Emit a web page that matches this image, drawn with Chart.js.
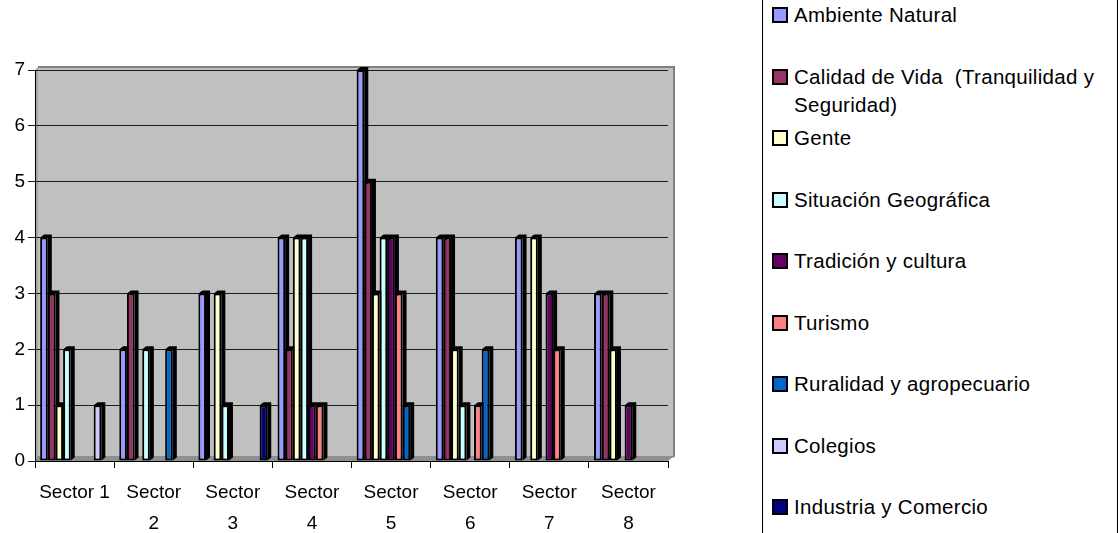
<!DOCTYPE html>
<html lang="es">
<head>
  <meta charset="UTF-8">
  <title>Sectores</title>
  <style>
    body {
      margin: 0;
      background: #ffffff;
      font-family: "Liberation Sans", Arial, sans-serif;
      width: 1119px;
      height: 533px;
      overflow: hidden;
      position: relative;
    }
    #chartBox {
      position: absolute;
      left: 0;
      top: 0;
      width: 700px;
      height: 533px;
    }
    .legend {
      position: absolute;
      left: 762px;
      top: -2px;
      width: 354px;
      height: 545px;
      border: 1px solid #000;
      background: #fff;
    }
    .item {
      position: absolute;
      left: 9px;
      width: 326px;
      font-size: 20.5px;
      line-height: 28px;
      letter-spacing: 0.3px;
      color: #000;
      white-space: pre-wrap;
      padding-left: 22px;
    }
    .swatch {
      position: absolute;
      left: 0;
      top: 6px;
      width: 12px;
      height: 12px;
      border: 2px solid #000;
    }
  </style>
</head>
<body>
  <div id="chartBox"><canvas id="chart" width="700" height="533"></canvas></div>
  <div class="legend" id="legend"></div>

  <script src="https://cdn.jsdelivr.net/npm/chart.js"></script>
  <script>
    // categories and tick labels
    const sectors = ['Sector 1', 'Sector 2', 'Sector 3', 'Sector 4', 'Sector 5', 'Sector 6', 'Sector 7', 'Sector 8'];
    const sectorTicks = [['Sector 1'], ['Sector', '2'], ['Sector', '3'], ['Sector', '4'], ['Sector', '5'], ['Sector', '6'], ['Sector', '7'], ['Sector', '8']];
    const yTicks = [0, 1, 2, 3, 4, 5, 6, 7];

    // one array per series (Sector 1 .. Sector 8)
    const ambienteNatural = [4, 2, 3, 4, 7, 4, 4, 3];
    const calidadDeVida   = [3, 3, 0, 2, 5, 4, 0, 3];
    const gente           = [1, 0, 3, 4, 3, 2, 4, 2];
    const situacionGeo    = [2, 2, 1, 4, 4, 1, 0, 0];
    const tradicion       = [0, 0, 0, 1, 4, 0, 3, 1];
    const turismo         = [0, 0, 0, 1, 3, 1, 2, 0];
    const ruralidad       = [0, 2, 0, 0, 1, 2, 0, 0];
    const colegios        = [1, 0, 0, 0, 0, 0, 0, 0];
    const industria       = [0, 0, 1, 0, 0, 0, 0, 0];

    const seriesNames = [
      'Ambiente Natural',
      'Calidad de Vida  (Tranquilidad y Seguridad)',
      'Gente',
      'Situación Geográfica',
      'Tradición y cultura',
      'Turismo',
      'Ruralidad y agropecuario',
      'Colegios',
      'Industria y Comercio'
    ];
    const seriesValues = [ambienteNatural, calidadDeVida, gente, situacionGeo, tradicion, turismo, ruralidad, colegios, industria];
    const seriesColors = ['#9999ff', '#993366', '#ffffcc', '#ccffff', '#660066', '#ff8080', '#0066cc', '#ccccff', '#000080'];

    const FONT = '"Liberation Sans", Arial, sans-serif';

    // grey back wall and floor, like the old 3D column chart
    const wallPlugin = {
      id: 'wall',
      beforeDraw(chart) {
        const { ctx, chartArea } = chart;
        const { left, right, top, bottom } = chartArea;
        ctx.save();
        ctx.fillStyle = '#c0c0c0';
        ctx.fillRect(left + 3, top - 3, right - left + 3, bottom - top);
        // left side wall
        ctx.fillStyle = '#a6a6a6';
        ctx.beginPath();
        ctx.moveTo(left, top);
        ctx.lineTo(left + 3, top - 3);
        ctx.lineTo(left + 3, bottom - 3);
        ctx.lineTo(left, bottom);
        ctx.closePath();
        ctx.fill();
        // wall frame
        ctx.strokeStyle = '#808080';
        ctx.lineWidth = 2;
        ctx.beginPath();
        ctx.moveTo(left + 3, top - 3);
        ctx.lineTo(right + 6, top - 3);
        ctx.lineTo(right + 6, bottom - 4);
        ctx.stroke();
        // floor
        ctx.fillStyle = '#8f8f8f';
        ctx.beginPath();
        ctx.moveTo(left, bottom);
        ctx.lineTo(right, bottom);
        ctx.lineTo(right + 6, bottom - 5);
        ctx.lineTo(left + 3, bottom - 5);
        ctx.closePath();
        ctx.fill();
        ctx.restore();
      }
    };

    // black side and top faces behind each column
    const depthPlugin = {
      id: 'depth',
      beforeDatasetsDraw(chart) {
        const ctx = chart.ctx;
        const dx = 4, dy = 3;
        ctx.save();
        ctx.fillStyle = '#000';
        chart.data.datasets.forEach((ds, i) => {
          chart.getDatasetMeta(i).data.forEach((bar, j) => {
            if (!ds.data[j]) return;
            const p = bar.getProps(['x', 'y', 'base', 'width'], true);
            const l = p.x - p.width / 2;
            const r = p.x + p.width / 2;
            ctx.beginPath();
            ctx.moveTo(l, p.y);
            ctx.lineTo(l + dx, p.y - dy);
            ctx.lineTo(r + dx, p.y - dy);
            ctx.lineTo(r + dx, p.base - dy);
            ctx.lineTo(r, p.base);
            ctx.lineTo(r, p.y);
            ctx.closePath();
            ctx.fill();
          });
        });
        ctx.restore();
      }
    };

    const datasets = seriesNames.map((name, i) => ({
      label: name,
      data: seriesValues[i],
      backgroundColor: seriesColors[i],
      borderColor: '#000',
      borderWidth: 2,
      borderSkipped: false,
      categoryPercentage: 0.87,
      barPercentage: 1
    }));

    new Chart(document.getElementById('chart'), {
      type: 'bar',
      data: { labels: sectors, datasets: datasets },
      plugins: [wallPlugin, depthPlugin],
      options: {
        responsive: false,
        animation: false,
        layout: { padding: { top: 70, right: 32, left: 0, bottom: 0 } },
        plugins: {
          legend: { display: false },
          tooltip: { enabled: false }
        },
        scales: {
          x: {
            afterFit(scale) { scale.height = 72; },
            grid: { display: true, offset: true, drawOnChartArea: false, color: '#000', tickLength: 7 },
            border: { color: '#000', width: 1 },
            ticks: {
              color: '#000',
              padding: 9,
              maxRotation: 0,
              autoSkip: false,
              font: { family: FONT, size: 19, lineHeight: 1.65 },
              callback: (v, i) => sectorTicks[i]
            }
          },
          y: {
            min: yTicks[0],
            max: yTicks[yTicks.length - 1],
            afterFit(scale) { scale.width = 35; },
            afterBuildTicks(scale) { scale.ticks = yTicks.map(v => ({ value: v })); },
            grid: { color: '#1a1a1a', lineWidth: 1, tickLength: 7 },
            border: { color: '#000', width: 1 },
            ticks: {
              color: '#000',
              padding: 3,
              font: { family: FONT, size: 19 }
            }
          }
        }
      }
    });

    // legend box on the right
    const legend = document.getElementById('legend');
    seriesNames.forEach((name, i) => {
      const item = document.createElement('div');
      item.className = 'item';
      item.style.top = (2 + i * 61.5) + 'px';
      const sw = document.createElement('span');
      sw.className = 'swatch';
      sw.style.background = seriesColors[i];
      item.appendChild(sw);
      item.appendChild(document.createTextNode(name));
      legend.appendChild(item);
    });
  </script>
</body>
</html>
